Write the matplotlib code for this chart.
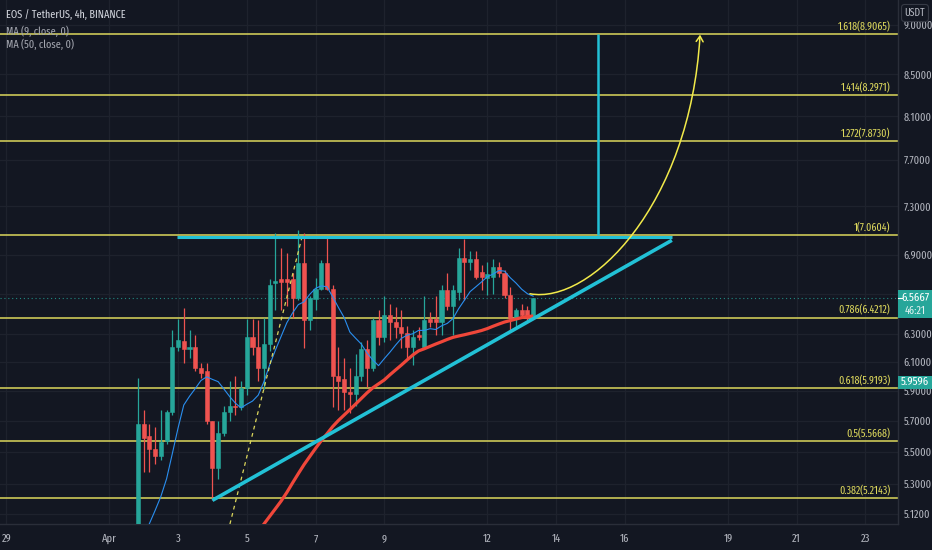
import numpy as np
import matplotlib
matplotlib.use('Agg')
import matplotlib.pyplot as plt
import matplotlib.transforms as mtransforms
from matplotlib.path import Path
from matplotlib.patches import FancyArrowPatch, Rectangle
from matplotlib.ticker import FixedLocator, FixedFormatter, NullLocator

# ---------------- data ----------------
candle_start = 0.8333          # days after Apr 1 00:00 (4h candles)
candle_step = 1 / 6
opens = [4.99, 5.68, 5.60, 5.52, 5.47, 5.57, 5.76, 6.21, 6.25, 6.19,
         6.21, 6.06, 6.04, 5.70, 5.40, 5.62, 5.76, 5.80, 5.79, 5.92,
         6.28, 6.21, 6.06, 6.23, 6.68, 6.71, 6.71, 6.71, 6.57, 6.84,
         6.40, 6.56, 6.64, 6.84, 6.64, 6.00, 5.98, 5.89, 5.88, 6.00,
         6.19, 6.06, 6.40, 6.28, 6.44, 6.39, 6.35, 6.31, 6.21, 6.29,
         6.21, 6.41, 6.41, 6.39, 6.63, 6.51, 6.61, 6.88, 6.85, 6.87,
         6.77, 6.72, 6.73, 6.81, 6.76, 6.59, 6.42, 6.48, 6.48, 6.42]
highs = [5.99, 5.77, 5.68, 5.66, 5.77, 5.77, 6.33, 6.41, 6.49, 6.33,
         6.29, 6.09, 6.09, 5.70, 5.70, 5.80, 5.97, 6.00, 5.97, 6.41,
         6.41, 6.40, 6.42, 6.71, 7.08, 6.96, 6.92, 6.76, 7.10, 7.08,
         6.58, 6.72, 6.86, 7.04, 6.67, 6.21, 6.13, 6.06, 6.16, 6.24,
         6.26, 6.42, 6.48, 6.58, 6.52, 6.50, 6.48, 6.36, 6.33, 6.35,
         6.58, 6.46, 6.58, 6.67, 6.76, 6.67, 6.96, 7.03, 6.93, 6.93,
         6.82, 6.85, 6.87, 6.85, 6.78, 6.65, 6.49, 6.52, 6.51, 6.57]
lows = [4.95, 5.37, 5.37, 5.42, 5.45, 5.55, 5.74, 6.18, 6.09, 6.13,
        6.04, 5.99, 5.68, 5.20, 5.33, 5.60, 5.70, 5.74, 5.77, 5.87,
        6.15, 5.97, 5.91, 6.18, 6.48, 6.48, 6.51, 6.42, 6.55, 6.20,
        6.33, 6.48, 6.63, 6.63, 5.79, 5.77, 5.77, 5.75, 5.80, 5.97,
        5.93, 6.04, 6.22, 6.24, 6.26, 6.27, 6.20, 6.13, 6.08, 6.26,
        6.20, 6.35, 6.29, 6.29, 6.48, 6.29, 6.55, 6.55, 6.78, 6.71,
        6.63, 6.59, 6.60, 6.73, 6.57, 6.33, 6.34, 6.42, 6.40, 6.42]
closes = [5.68, 5.59, 5.52, 5.47, 5.56, 5.76, 6.21, 6.26, 6.19, 6.21,
          6.06, 6.02, 5.70, 5.40, 5.62, 5.76, 5.80, 5.79, 5.92, 6.28,
          6.21, 6.06, 6.23, 6.67, 6.70, 6.69, 6.69, 6.57, 6.84, 6.40,
          6.57, 6.64, 6.84, 6.64, 6.00, 5.97, 5.89, 5.88, 6.00, 6.19,
          6.06, 6.40, 6.28, 6.44, 6.39, 6.35, 6.31, 6.21, 6.28, 6.28,
          6.40, 6.39, 6.39, 6.63, 6.51, 6.63, 6.88, 6.85, 6.87, 6.73,
          6.73, 6.75, 6.81, 6.76, 6.59, 6.42, 6.48, 6.44, 6.42, 6.5667]
pre_closes = [4.78, 4.80, 4.77, 4.81, 4.79, 4.80, 4.78, 4.82]   # closes before the first visible candle
ma50_values = [5.013, 5.060, 5.105, 5.150, 5.196, 5.248, 5.306, 5.363, 5.419, 5.470,
               5.521, 5.570, 5.615, 5.662, 5.702, 5.738, 5.774, 5.811, 5.849, 5.887,
               5.921, 5.948, 5.975, 6.011, 6.045, 6.079, 6.115, 6.150, 6.179, 6.194,
               6.211, 6.228, 6.244, 6.261, 6.276, 6.286, 6.295, 6.305, 6.315, 6.326,
               6.340, 6.357, 6.373, 6.388, 6.399, 6.410, 6.421, 6.428, 6.433]

fib_ratios = ['1.618', '1.414', '1.272', '1', '0.786', '0.618', '0.5', '0.382']
fib_prices = [8.9065, 8.2971, 7.8730, 7.0604, 6.4212, 5.9193, 5.5668, 5.2143]

xtick_days = [-3, 0, 2, 4, 6, 8, 11, 13, 15, 18, 20, 22]
xtick_labels = ['29', 'Apr', '3', '5', '7', '9', '12', '14', '16', '19', '21', '23']
ytick_prices = [5.12, 5.3, 5.5, 5.7, 5.9, 6.1, 6.3, 6.6, 6.9, 7.3, 7.7, 8.1, 8.5, 9.0]
ytick_hidden = [6.6]   # label sits under the last-price box

resist_t = [1.97, 16.37]
resist_p = [7.05, 7.05]
trend_t = [3.0, 16.37]
trend_p = [5.20, 7.02]
dashed_t = [3.51, 5.61]
dashed_p = [5.06, 7.05]
target_t = [14.22, 14.22]
target_p = [7.06, 8.91]
curve_t = [12.24, 13.99, 16.90, 17.19]
curve_p = [6.60, 6.515, 7.31, 8.90]

last_price = 6.5667
countdown = '46:21'
side_value = 5.9596

title = 'EOS / TetherUS, 4h, BINANCE'
legend_lines = ['MA (9, close, 0)', 'MA (50, close, 0)']

# ---------------- style ----------------
BG = '#131722'
GRID = '#1e222d'
TXT = '#b2b5be'
UP = '#26a69a'
DN = '#ef5350'
FIB = '#dcd75c'
CYAN = '#22c1d6'
MA9C = '#2a8ff0'
MA50C = '#f0473a'
FONT = ['Fira Sans Extra Condensed', 'DejaVu Sans']
plt.rcParams['font.family'] = FONT

W, H = 932, 550
fig = plt.figure(figsize=(W / 100, H / 100), dpi=100, facecolor=BG)
ax = fig.add_axes([0, 26 / H, 898 / W, 524 / H])
ax.set_facecolor(BG)
ax.set_yscale('log')
ax.set_ylim(5.060, 9.263)
ax.set_xlim(-3.181, 22.95)

for s in ['top', 'left']:
    ax.spines[s].set_visible(False)
for s in ['bottom', 'right']:
    ax.spines[s].set_color('#2a2e39')
    ax.spines[s].set_linewidth(1.0)

ax.yaxis.tick_right()
ax.yaxis.set_major_locator(FixedLocator(ytick_prices))
ax.yaxis.set_major_formatter(FixedFormatter(['' if p in ytick_hidden else '%.4f' % p
                                             for p in ytick_prices]))
ax.yaxis.set_minor_locator(NullLocator())
ax.xaxis.set_major_locator(FixedLocator(xtick_days))
ax.xaxis.set_major_formatter(FixedFormatter(xtick_labels))
ax.tick_params(axis='both', length=0, colors=TXT)
ax.tick_params(axis='y', pad=4, labelsize=8.0)
ax.tick_params(axis='x', pad=7, labelsize=8.2)
ax.grid(True, color=GRID, lw=0.9, zorder=0)
ax.set_axisbelow(True)

# fib levels
blend = mtransforms.blended_transform_factory(ax.transAxes, ax.transData)
for r, p in zip(fib_ratios, fib_prices):
    ax.axhline(p, color=FIB, lw=1.1, zorder=2)
    ax.text(0.9915, p, '%s(%.4f)' % (r, p), transform=blend + mtransforms.Affine2D().translate(0, 1.5),
            ha='right', va='bottom', color=FIB, fontsize=7.8, zorder=6)

# current price line
ax.axhline(last_price, color=UP, lw=0.8, ls=(0, (1, 2.5)), alpha=0.8, zorder=2)

# candles
o = np.array(opens); h = np.array(highs); l = np.array(lows); c = np.array(closes)
t = candle_start + candle_step * np.arange(len(c))
cols = np.where(c >= o, UP, DN)
ax.vlines(t, l, h, colors=cols, lw=0.9, zorder=3)
ax.bar(t, np.abs(c - o), bottom=np.minimum(o, c), width=candle_step * 0.72,
       color=cols, edgecolor=cols, linewidth=0.4, zorder=3)

# moving averages
allc = np.concatenate([pre_closes, closes])
ma9 = np.convolve(allc, np.ones(9) / 9, mode='valid')[-len(c):]
ax.plot(t, ma9, color=MA9C, lw=0.8, zorder=4)
ma50_t = t[len(c) - len(ma50_values):]
ax.plot(ma50_t, ma50_values, color=MA50C, lw=2.3, zorder=4, solid_capstyle='butt')

# drawings
ax.plot(dashed_t, dashed_p, color=FIB, lw=0.9, ls=(0, (3, 3)), zorder=5)
ax.plot(resist_t, resist_p, color=CYAN, lw=2.2, zorder=5, solid_capstyle='butt')
ax.plot(trend_t, trend_p, color=CYAN, lw=2.6, zorder=5, solid_capstyle='butt')
ax.plot(target_t, target_p, color=CYAN, lw=1.8, zorder=5, solid_capstyle='butt')
curve = Path(list(zip(curve_t, curve_p)), [Path.MOVETO, Path.CURVE4, Path.CURVE4, Path.CURVE4])
arr = FancyArrowPatch(path=curve, arrowstyle='->,head_length=4,head_width=2.5',
                      color='#f2ea4a', lw=1.1, transform=ax.transData, zorder=6)
ax.add_patch(arr)

# right-axis labels
def axis_box(price, dy, hgt, color):
    tr = mtransforms.Affine2D() + mtransforms.ScaledTranslation(1.0, price, blend)
    r = Rectangle((0, dy), 34, hgt, transform=tr, facecolor=color, edgecolor='none',
                  clip_on=False, zorder=10)
    ax.add_artist(r)

axis_box(last_price, -20, 28, UP)
tr1 = blend + mtransforms.Affine2D().translate(17, 0)
ax.text(1.0, last_price, '%.4f' % last_price, transform=tr1, ha='center', va='center',
        color='white', fontsize=8.4, clip_on=False, zorder=11)
ax.text(1.0, last_price, countdown, transform=blend + mtransforms.Affine2D().translate(17, -13),
        ha='center', va='center', color='#e0f2f1', fontsize=8.0, clip_on=False, zorder=11)
axis_box(side_value, -6.5, 13, UP)
ax.text(1.0, side_value, '%.4f' % side_value, transform=tr1, ha='center', va='center',
        color='white', fontsize=8.4, clip_on=False, zorder=11)
ax.plot([1.0, 1.004], [last_price, last_price], transform=blend, color='white', lw=0.8,
        clip_on=False, zorder=12)

# header texts
fig.text(6 / W, 1 - 15 / H, title, color='#d1d4dc', fontsize=8.0, va='center', ha='left')
for k, s in enumerate(legend_lines):
    fig.text(6 / W, 1 - (32 + 12.5 * k) / H, s, color='#a3a6af', fontsize=8.0, va='center', ha='left')
fig.text(915 / W, 1 - 13 / H, 'USDT', color=TXT, fontsize=7.6, va='center', ha='center',
         bbox=dict(boxstyle='round,pad=0.3', facecolor=BG, edgecolor='#363a45', lw=0.8))

fig.savefig('out.png', dpi=100, facecolor=BG)
